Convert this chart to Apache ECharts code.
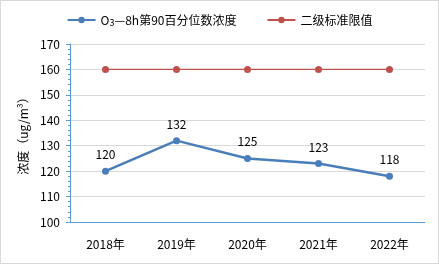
<!DOCTYPE html>
<html>
<head>
<meta charset="utf-8">
<script src="https://cdn.jsdelivr.net/npm/echarts@6/dist/echarts.min.js"></script>
<style>
    html, body { margin: 0; padding: 0; background: #fff; }
    #main { width: 437px; height: 262px; border: 1px solid #d9d9d9; }
</style>
</head>
<body>
<div id="main"></div>
<script>
var years = ['2018年', '2019年', '2020年', '2021年', '2022年'];
var o3Values = [120, 132, 125, 123, 118];
var limitValues = [160, 160, 160, 160, 160];
var yMin = 100, yMax = 170, yStep = 10;

var myChart = echarts.init(document.getElementById('main'));
var font = '"Microsoft YaHei", "Noto Sans CJK SC", sans-serif';

var option = {
    backgroundColor: '#fff',
    textStyle: { fontFamily: font },
    legend: {
        top: 8,
        left: 'center',
        itemGap: 30,
        itemWidth: 28,
        itemHeight: 8,
        textStyle: {
            fontSize: 12, color: '#000', fontFamily: font,
            rich: {
                a: { fontSize: 12, color: '#000', fontFamily: font },
                s: { fontSize: 9, color: '#000', fontFamily: font, padding: [6, 0, 0, 0] }
            }
        },
        formatter: function (name) {
            // O3 的下标
            if (name.indexOf('O₃') === 0) {
                return '{a|O}{s|3}{a|' + name.slice(2) + '}';
            }
            return '{a|' + name + '}';
        },
        data: ['O₃—8h第90百分位数浓度', '二级标准限值']
    },
    grid: { left: 69, right: 13, top: 43, bottom: 41 },
    xAxis: {
        type: 'category',
        data: years,
        boundaryGap: true,
        axisLine: { lineStyle: { color: '#5B9BD5', width: 1 } },
        axisTick: { show: false },
        axisLabel: { color: '#000', fontSize: 12, margin: 16 }
    },
    yAxis: {
        type: 'value',
        min: yMin,
        max: yMax,
        interval: yStep,
        name: '浓度（ug/m³）',
        nameLocation: 'middle',
        nameGap: 40,
        nameTextStyle: { color: '#000', fontSize: 12 },
        axisLine: { show: true, lineStyle: { color: '#5B9BD5' } },
        axisTick: { show: true, inside: false, length: 4, lineStyle: { color: '#5B9BD5' } },
        minorTick: { show: true, splitNumber: 5, length: 2, lineStyle: { color: '#5B9BD5' } },
        axisLabel: { color: '#000', fontSize: 12, margin: 10 },
        splitLine: { lineStyle: { color: '#d9d9d9' } }
    },
    series: [
        {
            name: 'O₃—8h第90百分位数浓度',
            type: 'line',
            data: o3Values,
            symbol: 'circle',
            symbolSize: 7,
            color: '#4A7EBB',
            lineStyle: { width: 2.5, color: '#4A7EBB' },
            label: { show: true, position: 'top', distance: 7, color: '#000', fontSize: 12 }
        },
        {
            name: '二级标准限值',
            type: 'line',
            data: limitValues,
            symbol: 'circle',
            symbolSize: 7,
            color: '#C0504D',
            lineStyle: { width: 1.2, color: '#C0504D' }
        }
    ],
    animation: false
};

myChart.setOption(option);
</script>
</body>
</html>
